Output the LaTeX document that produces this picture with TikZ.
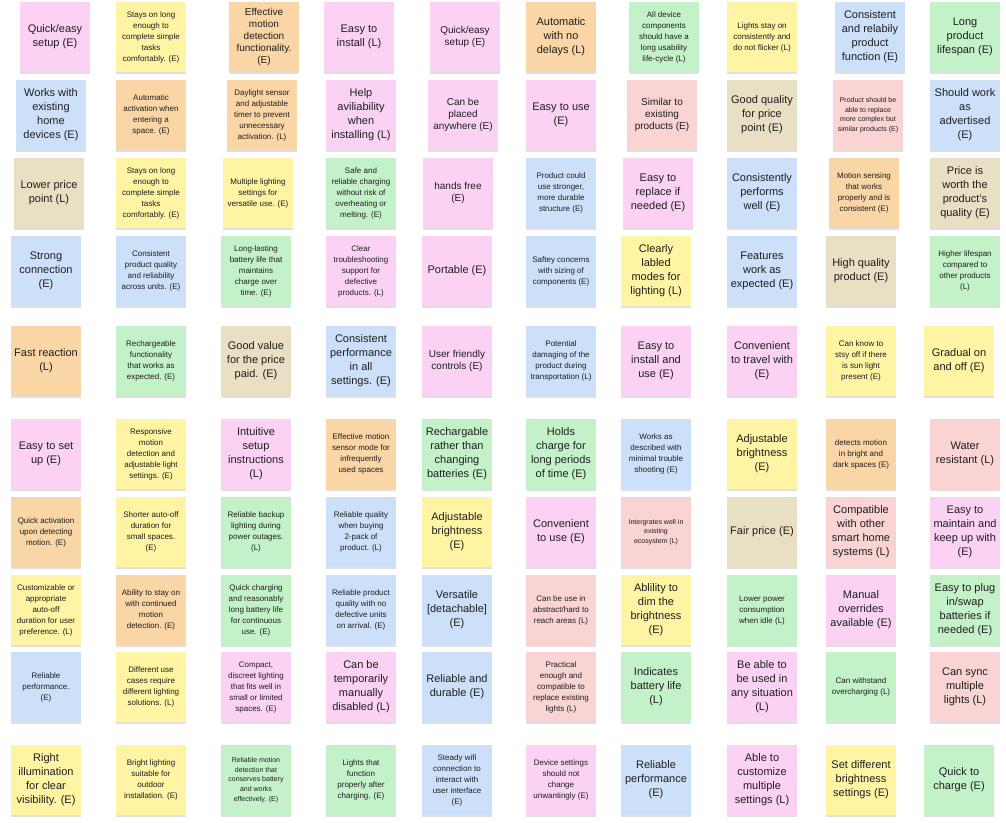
\documentclass[tikz,border=0pt]{standalone}
\usepackage{fontspec}
\setmainfont{Liberation Sans}
\usepackage{graphicx}
\usetikzlibrary{shadows}
\definecolor{cpink}{RGB}{251,210,244}
\definecolor{cyellow}{RGB}{254,244,164}
\definecolor{corange}{RGB}{250,214,166}
\definecolor{cgreen}{RGB}{196,242,200}
\definecolor{cblue}{RGB}{204,224,250}
\definecolor{ctan}{RGB}{233,223,195}
\definecolor{csalmon}{RGB}{250,211,211}
\definecolor{ink}{RGB}{30,30,30}
\newcommand{\fntL}{\fontsize{11}{14}\selectfont}
\newcommand{\fntM}{\fontsize{10}{12.2}\selectfont}
\newcommand{\fntS}{\fontsize{8}{11}\selectfont}
\newcommand{\fntXS}{\fontsize{7}{9.6}\selectfont}
\newsavebox{\notebox}
\newcommand{\fitnote}[1]{\sbox{\notebox}{\begin{tabular}{@{}c@{}}#1\end{tabular}}\ifdim\wd\notebox>65pt\resizebox{65pt}{!}{\usebox{\notebox}}\else\usebox{\notebox}\fi}
\tikzset{note/.style={rectangle, minimum width=70pt, minimum height=70pt, inner sep=0pt, text=ink,
  drop shadow={shadow xshift=0pt, shadow yshift=-1.5pt, opacity=0.12, fill=black}}}
\newcommand{\stick}[6]{\node[note,fill=#4,font=\csname fnt#5\endcsname] (#1) at (#2pt,-#3pt) {\fitnote{#6}};}
\begin{document}
\begin{tikzpicture}
\fill[white] (0pt,0pt) rectangle (1006pt,-822pt);
\useasboundingbox (0pt,0pt) rectangle (1006pt,-822pt);
% Row 1
\stick{r1c1}{55}{37}{cpink}{L}{Quick/easy\\setup (E)}
\stick{r1c2}{151}{37}{cyellow}{S}{Stays on long\\enough to\\complete simple\\tasks\\comfortably. (E)}
\stick{r1c3}{264}{37}{corange}{M}{Effective\\motion\\detection\\functionality.\\(E)}
\stick{r1c4}{359}{37}{cpink}{L}{Easy to\\install (L)}
\stick{r1c5}{465}{37}{cpink}{M}{Quick/easy\\setup (E)}
\stick{r1c6}{561}{37}{corange}{L}{Automatic\\with no\\delays (L)}
\stick{r1c7}{664}{37}{cgreen}{S}{All device\\components\\should have a\\long usability\\life-cycle (L)}
\stick{r1c8}{762}{37}{cyellow}{S}{Lights stay on\\consistently and\\do not flicker (L)}
\stick{r1c9}{870}{37}{cblue}{L}{Consistent\\and relabily\\product\\function (E)}
\stick{r1c10}{965}{37}{cgreen}{L}{Long\\product\\lifespan (E)}
% Row 2
\stick{r2c1}{51}{115}{cblue}{L}{Works with\\existing\\home\\devices (E)}
\stick{r2c2}{151}{115}{corange}{S}{Automatic\\activation when\\entering a\\space. (E)}
\stick{r2c3}{262}{115}{corange}{S}{Daylight sensor\\and adjustable\\timer to prevent\\unnecessary\\activation. (L)}
\stick{r2c4}{361}{115}{cpink}{L}{Help\\aviliability\\when\\installing (L)}
\stick{r2c5}{463}{115}{cpink}{M}{Can be\\placed\\anywhere (E)}
\stick{r2c6}{561}{115}{cpink}{L}{Easy to use\\(E)}
\stick{r2c7}{662}{115}{csalmon}{M}{Similar to\\existing\\products (E)}
\stick{r2c8}{762}{115}{ctan}{L}{Good quality\\for price\\point (E)}
\stick{r2c9}{868}{115}{csalmon}{XS}{Product should be\\able to replace\\more complex but\\similar products (E)}
\stick{r2c10}{965}{115}{cblue}{L}{Should work\\as\\advertised\\(E)}
% Row 3
\stick{r3c1}{49}{193}{ctan}{L}{Lower price\\point (L)}
\stick{r3c2}{151}{193}{cyellow}{S}{Stays on long\\enough to\\complete simple\\tasks\\comfortably. (E)}
\stick{r3c3}{258}{193}{cyellow}{S}{Multiple lighting\\settings for\\versatile use. (E)}
\stick{r3c4}{361}{193}{cgreen}{S}{Safe and\\reliable charging\\without risk of\\overheating or\\melting. (E)}
\stick{r3c5}{458}{193}{cpink}{M}{hands free\\(E)}
\stick{r3c6}{561}{193}{cblue}{S}{Product could\\use stronger,\\more durable\\structure (E)}
\stick{r3c7}{658}{193}{cpink}{L}{Easy to\\replace if\\needed (E)}
\stick{r3c8}{762}{193}{cblue}{L}{Consistently\\performs\\well (E)}
\stick{r3c9}{864}{193}{corange}{S}{Motion sensing\\that works\\properly and is\\consistent (E)}
\stick{r3c10}{965}{193}{ctan}{L}{Price is\\worth the\\product's\\quality (E)}
% Row 4
\stick{r4c1}{46}{271}{cblue}{L}{Strong\\connection\\(E)}
\stick{r4c2}{151}{271}{cblue}{S}{Consistent\\product quality\\and reliability\\across units. (E)}
\stick{r4c3}{256}{271}{cgreen}{S}{Long-lasting\\battery life that\\maintains\\charge over\\time. (E)}
\stick{r4c4}{361}{271}{cpink}{S}{Clear\\troubleshooting\\support for\\defective\\products. (L)}
\stick{r4c5}{457}{271}{cpink}{L}{Portable (E)}
\stick{r4c6}{561}{271}{cblue}{S}{Saftey concerns\\with sizing of\\components (E)}
\stick{r4c7}{656}{271}{cyellow}{L}{Clearly\\labled\\modes for\\lighting (L)}
\stick{r4c8}{762}{271}{cblue}{L}{Features\\work as\\expected (E)}
\stick{r4c9}{861}{271}{ctan}{L}{High quality\\product (E)}
\stick{r4c10}{965}{271}{cgreen}{S}{Higher lifespan\\compared to\\other products\\(L)}
% Row 5
\stick{r5c1}{46}{361}{corange}{L}{Fast reaction\\(L)}
\stick{r5c2}{151}{361}{cgreen}{S}{Rechargeable\\functionality\\that works as\\expected. (E)}
\stick{r5c3}{256}{361}{ctan}{L}{Good value\\for the price\\paid. (E)}
\stick{r5c4}{361}{361}{cblue}{L}{Consistent\\performance\\in all\\settings. (E)}
\stick{r5c5}{457}{361}{cpink}{M}{User friendly\\controls (E)}
\stick{r5c6}{561}{361}{cblue}{S}{Potential\\damaging of the\\product during\\transportation (L)}
\stick{r5c7}{656}{361}{cpink}{L}{Easy to\\install and\\use (E)}
\stick{r5c8}{762}{361}{cpink}{L}{Convenient\\to travel with\\(E)}
\stick{r5c9}{861}{361}{cyellow}{S}{Can know to\\stsy off if there\\is sun light\\present (E)}
\stick{r5c10}{959}{361}{cyellow}{L}{Gradual on\\and off (E)}
% Row 6
\stick{r6c1}{46}{454}{cpink}{L}{Easy to set\\up (E)}
\stick{r6c2}{151}{454}{cyellow}{S}{Responsive\\motion\\detection and\\adjustable light\\settings. (E)}
\stick{r6c3}{256}{454}{cpink}{L}{Intuitive\\setup\\instructions\\(L)}
\stick{r6c4}{361}{454}{corange}{S}{Effective motion\\sensor mode for\\infrequently\\used spaces}
\stick{r6c5}{457}{454}{cgreen}{L}{Rechargable\\rather than\\changing\\batteries (E)}
\stick{r6c6}{561}{454}{cgreen}{L}{Holds\\charge for\\long periods\\of time (E)}
\stick{r6c7}{656}{454}{cblue}{S}{Works as\\described with\\minimal trouble\\shooting (E)}
\stick{r6c8}{762}{454}{cyellow}{L}{Adjustable\\brightness\\(E)}
\stick{r6c9}{861}{454}{corange}{S}{detects motion\\in bright and\\dark spaces (E)}
\stick{r6c10}{965}{454}{csalmon}{L}{Water\\resistant (L)}
% Row 7
\stick{r7c1}{46}{532}{corange}{S}{Quick activation\\upon detecting\\motion. (E)}
\stick{r7c2}{151}{532}{cyellow}{S}{Shorter auto-off\\duration for\\small spaces.\\(E)}
\stick{r7c3}{256}{532}{cgreen}{S}{Reliable backup\\lighting during\\power outages.\\(L)}
\stick{r7c4}{361}{532}{cblue}{S}{Reliable quality\\when buying\\2-pack of\\product. (L)}
\stick{r7c5}{457}{532}{cyellow}{L}{Adjustable\\brightness\\(E)}
\stick{r7c6}{561}{532}{cpink}{L}{Convenient\\to use (E)}
\stick{r7c7}{656}{532}{csalmon}{XS}{Intergrates well in\\existing\\ecosystem (L)}
\stick{r7c8}{762}{532}{ctan}{L}{Fair price (E)}
\stick{r7c9}{861}{532}{csalmon}{L}{Compatible\\with other\\smart home\\systems (L)}
\stick{r7c10}{965}{532}{cpink}{L}{Easy to\\maintain and\\keep up with\\(E)}
% Row 8
\stick{r8c1}{46}{610}{cyellow}{S}{Customizable or\\appropriate\\auto-off\\duration for user\\preference. (L)}
\stick{r8c2}{151}{610}{corange}{S}{Ability to stay on\\with continued\\motion\\detection. (E)}
\stick{r8c3}{256}{610}{cgreen}{S}{Quick charging\\and reasonably\\long battery life\\for continuous\\use. (E)}
\stick{r8c4}{361}{610}{cblue}{S}{Reliable product\\quality with no\\defective units\\on arrival. (E)}
\stick{r8c5}{457}{610}{cblue}{L}{Versatile\\{[detachable]}\\(E)}
\stick{r8c6}{561}{610}{csalmon}{S}{Can be use in\\abstract/hard to\\reach areas (L)}
\stick{r8c7}{656}{610}{cyellow}{L}{Ablility to\\dim the\\brightness\\(E)}
\stick{r8c8}{762}{610}{cgreen}{S}{Lower power\\consumption\\when idle (L)}
\stick{r8c9}{861}{610}{cpink}{L}{Manual\\overrides\\available (E)}
\stick{r8c10}{965}{610}{cgreen}{L}{Easy to plug\\in/swap\\batteries if\\needed (E)}
% Row 9
\stick{r9c1}{46}{687}{cblue}{S}{Reliable\\performance.\\(E)}
\stick{r9c2}{151}{687}{cyellow}{S}{Different use\\cases require\\different lighting\\solutions. (L)}
\stick{r9c3}{256}{687}{cpink}{S}{Compact,\\discreet lighting\\that fits well in\\small or limited\\spaces. (E)}
\stick{r9c4}{361}{687}{cpink}{L}{Can be\\temporarily\\manually\\disabled (L)}
\stick{r9c5}{457}{687}{cblue}{L}{Reliable and\\durable (E)}
\stick{r9c6}{561}{687}{csalmon}{S}{Practical\\enough and\\compatible to\\replace existing\\lights (L)}
\stick{r9c7}{656}{687}{cgreen}{L}{Indicates\\battery life\\(L)}
\stick{r9c8}{762}{687}{cpink}{L}{Be able to\\be used in\\any situation\\(L)}
\stick{r9c9}{861}{687}{cgreen}{S}{Can withstand\\overcharging (L)}
\stick{r9c10}{965}{687}{csalmon}{L}{Can sync\\multiple\\lights (L)}
% Row 10
\stick{r10c1}{46}{780}{cyellow}{L}{Right\\illumination\\for clear\\visibility. (E)}
\stick{r10c2}{151}{780}{cyellow}{S}{Bright lighting\\suitable for\\outdoor\\installation. (E)}
\stick{r10c3}{256}{780}{cgreen}{XS}{Reliable motion\\detection that\\conserves battery\\and works\\effectively. (E)}
\stick{r10c4}{361}{780}{cgreen}{S}{Lights that\\function\\properly after\\charging. (E)}
\stick{r10c5}{457}{780}{cblue}{S}{Steady wifi\\connection to\\interact with\\user interface\\(E)}
\stick{r10c6}{561}{780}{cpink}{S}{Device settings\\should not\\change\\unwantingly (E)}
\stick{r10c7}{656}{780}{cblue}{L}{Reliable\\performance\\(E)}
\stick{r10c8}{762}{780}{cpink}{L}{Able to\\customize\\multiple\\settings (L)}
\stick{r10c9}{861}{780}{cyellow}{L}{Set different\\brightness\\settings (E)}
\stick{r10c10}{959}{780}{cgreen}{L}{Quick to\\charge (E)}
\end{tikzpicture}
\end{document}
